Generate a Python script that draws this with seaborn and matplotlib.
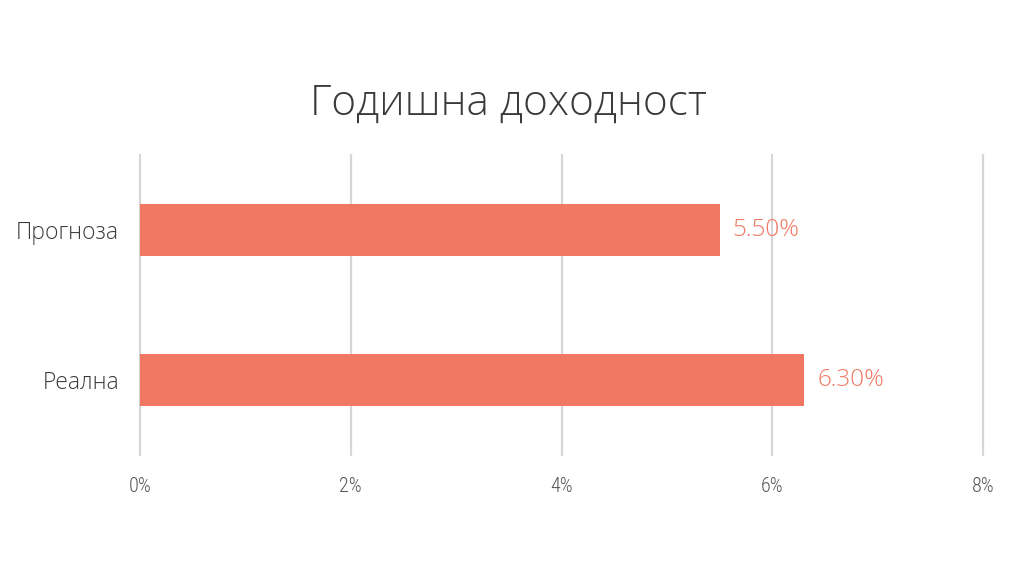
import pandas as pd
import seaborn as sns
import matplotlib.pyplot as plt
from matplotlib.ticker import FuncFormatter

# Data
categories = ['Прогноза', 'Реална']
values = [5.50, 6.30]
ticks = [0, 2, 4, 6, 8]

bar_color = '#F07862'
text_color = '#3a3a3a'

df = pd.DataFrame({'category': categories, 'value': values})

sns.set_style('white')
plt.rcParams['font.family'] = ['Open Sans', 'DejaVu Sans']

fig = plt.figure(figsize=(10.17, 5.68), dpi=100)
ax = fig.add_axes([140 / 1017, 1 - 455 / 568, (983 - 140) / 1017, 300 / 568])

sns.barplot(data=df, x='value', y='category', orient='h', color=bar_color,
            saturation=1, width=0.35, linewidth=0, ax=ax, zorder=3)

ax.set_xlim(0, 8)
ax.set_ylim(1.5, -0.5)
ax.set_xticks(ticks)
ax.xaxis.set_major_formatter(FuncFormatter(lambda v, p: f'{v:.0f}%'))
ax.grid(axis='x', color='#d6d6d6', linewidth=1.6, zorder=0)
ax.grid(axis='y', visible=False)
for g in ax.get_xgridlines():
    g.set_clip_on(False)
for s in ax.spines.values():
    s.set_visible(False)

ax.set_xlabel('')
ax.set_ylabel('')
ax.tick_params(axis='x', length=0, pad=16, labelcolor='#555555')
ax.tick_params(axis='y', length=0, pad=15, labelcolor=text_color)
for lab in ax.get_xticklabels():
    lab.set_family(['Roboto Condensed', 'Liberation Sans Narrow', 'DejaVu Sans'])
    lab.set_fontstretch('condensed')
    lab.set_fontweight('light')
    lab.set_fontsize(14.5)
for lab in ax.get_yticklabels():
    lab.set_fontsize(16.5)
    lab.set_fontweight('light')

# Value labels
for i, v in enumerate(values):
    ax.annotate(f'{v:.2f}%', (v, i), xytext=(9.5, 0), textcoords='offset points',
                va='center', ha='left', fontsize=17.5, color=bar_color,
                fontweight='light')

fig.text(0.5, 1 - 104 / 568, 'Годишна доходност', ha='center', va='center',
         fontsize=30.5, color=text_color, fontweight='light')

fig.savefig('out.png', dpi=100)
